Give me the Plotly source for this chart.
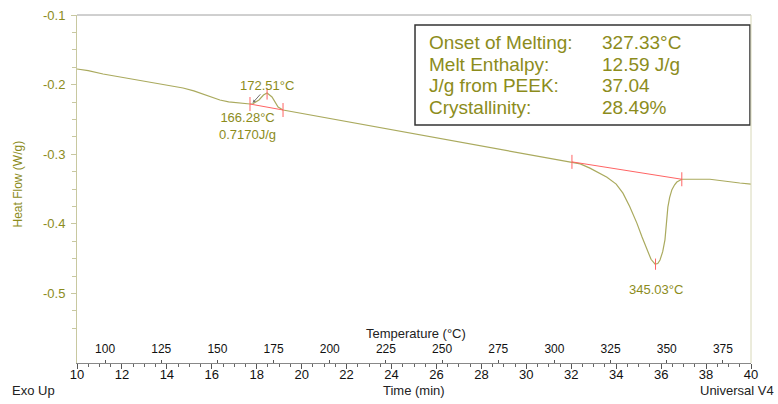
import plotly.graph_objects as go

# ---- data ----
time_min = [10.0, 10.5, 11.16, 12.0, 12.67, 13.4, 14.14, 14.72, 15.2, 15.61, 16.0, 16.36,
            16.75, 17.12, 17.7, 17.83, 18.1, 18.3, 18.46, 18.68, 18.95, 19.17,
            20.0, 22.0, 24.0, 26.0, 28.0, 30.0, 32.02, 32.4, 32.83, 33.2, 33.59, 34.0,
            34.3, 34.6, 34.92, 35.15, 35.37, 35.55, 35.73, 35.85, 35.95, 36.07, 36.17,
            36.24, 36.30, 36.38, 36.48, 36.60, 36.70, 36.92, 37.5, 38.17, 39.5, 40.0]
heat_flow = [-0.1776, -0.1800, -0.1848, -0.1895, -0.1934, -0.1976, -0.2020, -0.2049, -0.2090,
             -0.2135, -0.2180, -0.2221, -0.2248, -0.2264, -0.2279, -0.2275, -0.2220, -0.2150,
             -0.2121, -0.2178, -0.2322, -0.2365,
             -0.2413, -0.2529, -0.2645, -0.2760, -0.2876, -0.2992, -0.3108, -0.3140, -0.3200,
             -0.3260, -0.3330, -0.3430, -0.3560, -0.3750, -0.3990, -0.4190, -0.4380, -0.4510,
             -0.4580, -0.4570, -0.4520, -0.4400, -0.4230, -0.4000, -0.3760, -0.3620, -0.3510,
             -0.3440, -0.3400, -0.3360, -0.3360, -0.3360, -0.3414, -0.3430]

small_base_t = [17.7, 19.17]
small_base_v = [-0.2279, -0.2365]
melt_base_t = [32.03, 36.92]
melt_base_v = [-0.3110, -0.3360]
peak_t = [18.46, 35.75]
peak_v = [-0.2135, -0.4580]

time_ticks = [10, 12, 14, 16, 18, 20, 22, 24, 26, 28, 30, 32, 34, 36, 38, 40]
temp_ticks = [100, 125, 150, 175, 200, 225, 250, 275, 300, 325, 350, 375]
temp_range = [87.5, 387.5]
y_ticks = [-0.6, -0.5, -0.4, -0.3, -0.2, -0.1]
y_ticktext = ["-0.6", "-0.5", "-0.4", "-0.3", "-0.2", "-0.1"]

box_labels = ["Onset of Melting:", "Melt Enthalpy:", "J/g from PEEK:", "Crystallinity:"]
box_values = ["327.33°C", "12.59 J/g", "37.04", "28.49%"]

OLIVE = "#8c8c1c"
CURVE = "#aaaa5e"
RED = "#ff6464"
FONT = "Liberation Sans, Arial, sans-serif"

fig = go.Figure()
fig.add_trace(go.Scatter(x=time_min, y=heat_flow, mode="lines",
                         line=dict(color=CURVE, width=1.2), hoverinfo="skip"))
for bt, bv in [(small_base_t, small_base_v), (melt_base_t, melt_base_v)]:
    fig.add_trace(go.Scatter(x=bt, y=bv, mode="lines+markers",
                             line=dict(color=RED, width=1),
                             marker=dict(symbol="line-ns", size=10,
                                         line=dict(color=RED, width=1)),
                             hoverinfo="skip"))
fig.add_trace(go.Scatter(x=peak_t, y=peak_v, mode="markers",
                         marker=dict(symbol="line-ns", size=8,
                                     line=dict(color=RED, width=1)),
                         hoverinfo="skip"))
# invisible trace so the temperature axis is drawn
fig.add_trace(go.Scatter(x=temp_ticks, y=[None] * len(temp_ticks), xaxis="x2",
                         mode="markers", hoverinfo="skip"))

# peak labels
fig.add_annotation(x=peak_t[0], y=peak_v[0], text="172.51°C", showarrow=False,
                   yshift=9, font=dict(size=13, color=OLIVE, family=FONT))
fig.add_annotation(x=small_base_t[0], y=small_base_v[0], text="166.28°C<br>0.7170J/g",
                   showarrow=False, xshift=-2, yshift=-22, align="center",
                   font=dict(size=13, color=OLIVE, family=FONT))
fig.add_annotation(x=17.82, y=-0.2262, ax=9, ay=-10, text="", showarrow=True,
                   arrowhead=2, arrowsize=0.6, arrowwidth=1, arrowcolor="#707070")
fig.add_annotation(x=peak_t[1], y=peak_v[1], text="345.03°C", showarrow=False,
                   yshift=-25, font=dict(size=13, color=OLIVE, family=FONT))

# results box
fig.add_shape(type="rect", xref="paper", yref="paper", x0=0.5015, x1=0.9985,
              y0=0.684, y1=0.971, line=dict(color="#333333", width=1.5),
              fillcolor="white")
row_y = [0.922, 0.859, 0.798, 0.734]
for lab, val, ry in zip(box_labels, box_values, row_y):
    fig.add_annotation(xref="paper", yref="paper", x=0.520, y=ry, text=lab,
                       showarrow=False, xanchor="left", yanchor="middle",
                       font=dict(size=19, color=OLIVE, family=FONT))
    fig.add_annotation(xref="paper", yref="paper", x=0.7759, y=ry, text=val,
                       showarrow=False, xanchor="left", yanchor="middle",
                       font=dict(size=19, color=OLIVE, family=FONT))

# frame lines
fig.add_shape(type="line", xref="paper", yref="paper", x0=0, x1=1, y0=1, y1=1,
              line=dict(color="#a0a0a0", width=1))
fig.add_shape(type="line", xref="paper", yref="paper", x0=1, x1=1, y0=0, y1=1,
              line=dict(color="#d8d8b8", width=1))

# axis titles / footer text
fig.add_annotation(xref="paper", yref="paper", x=-0.087, y=0.514, text="Heat Flow (W/g)",
                   textangle=-90, showarrow=False, xanchor="center", yanchor="middle",
                   font=dict(size=12, color=OLIVE, family=FONT))
fig.add_annotation(xref="paper", yref="paper", x=0.503, y=0.086, text="Temperature (°C)",
                   showarrow=False, xanchor="center", yanchor="middle",
                   font=dict(size=13, color="#222", family=FONT))
fig.add_annotation(xref="paper", yref="paper", x=0.5, y=-0.08, text="Time (min)",
                   showarrow=False, xanchor="center", yanchor="middle",
                   font=dict(size=13, color="#222", family=FONT))
fig.add_annotation(xref="paper", yref="paper", x=-0.100, y=-0.08, text="Exo Up",
                   showarrow=False, xanchor="left", yanchor="middle",
                   font=dict(size=13, color="#222", family=FONT))
fig.add_annotation(xref="paper", yref="paper", x=1.0375, y=-0.08,
                   text="Universal V4",
                   showarrow=False, xanchor="right", yanchor="middle",
                   font=dict(size=13, color="#222", family=FONT))

fig.update_layout(
    width=778, height=404,
    margin=dict(l=77, r=27, t=15, b=41, autoexpand=False),
    paper_bgcolor="white", plot_bgcolor="white",
    showlegend=False,
    font=dict(family=FONT),
    xaxis=dict(range=[10, 40], tickvals=time_ticks, ticks="outside", ticklen=5,
               tickcolor="#555", showline=True, linecolor="#888", linewidth=1,
               showgrid=False, zeroline=False, automargin=False,
               ticklabelstandoff=-6,
               tickfont=dict(size=13, color="#111", family=FONT),
               minor=dict(dtick=0.5, ticks="outside", ticklen=3, tickcolor="#666")),
    xaxis2=dict(overlaying="x", anchor="y", side="bottom", range=temp_range,
                tickvals=temp_ticks, ticks="inside", ticklen=3, tickcolor="#555",
                ticklabelposition="inside", showline=False, showgrid=False,
                zeroline=False, automargin=False, ticklabelstandoff=4,
                tickfont=dict(size=12, color="#111", family=FONT)),
    yaxis=dict(range=[-0.6, -0.1], tickvals=y_ticks, ticktext=y_ticktext,
               ticks="outside", ticklen=5, tickcolor="#c8c8a0", showline=True,
               linecolor="#c8c8a0", linewidth=1, showgrid=False, zeroline=False,
               automargin=False, ticklabelstandoff=3,
               tickfont=dict(size=13, color=OLIVE, family=FONT),
               minor=dict(dtick=0.025, ticks="outside", ticklen=4, tickcolor="#c8c8a0")),
)

fig.write_html("out.html", config={"displayModeBar": False},
               post_script="document.body.style.margin='0px';")
